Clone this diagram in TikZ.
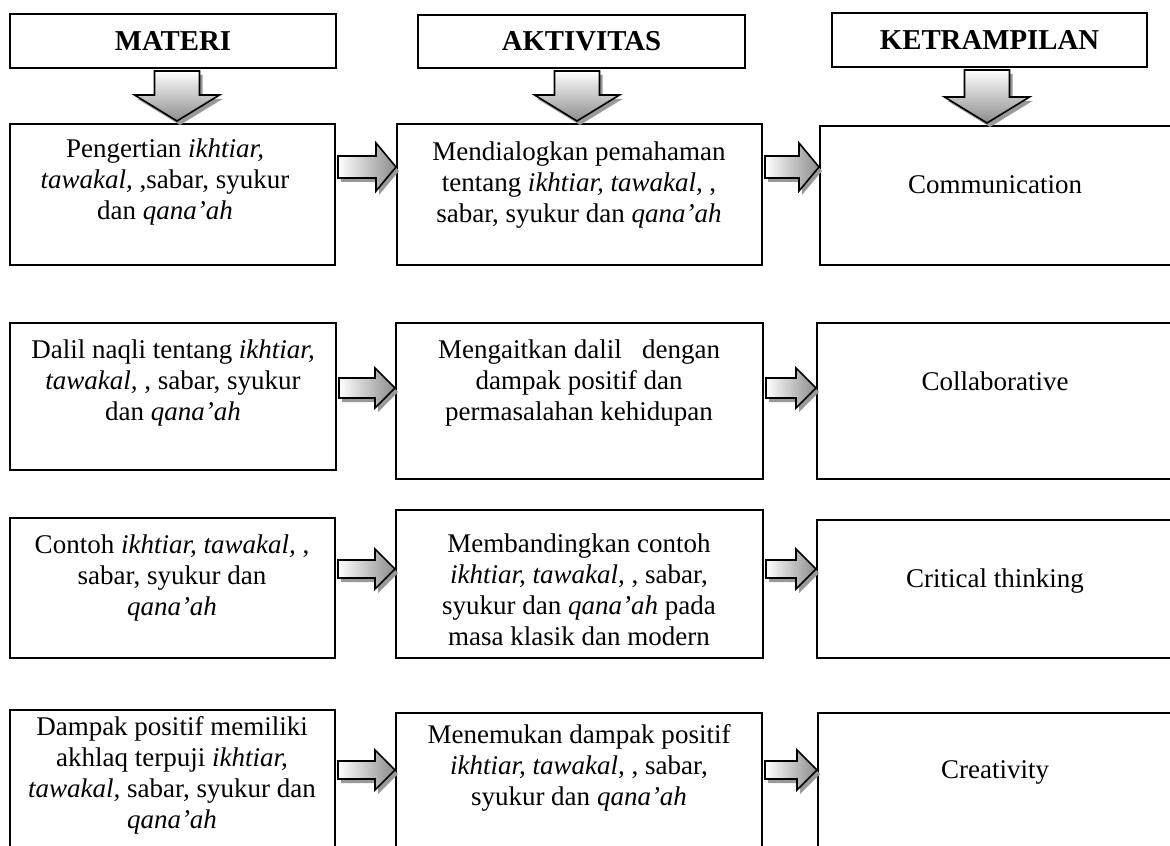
\documentclass[tikz,border=0pt]{standalone}
\usepackage{fontspec}
\setmainfont{Liberation Serif}
\usetikzlibrary{calc}
\newcommand\boxnode[6]{% name, left, top, right, bottom, style
  \node[#6, minimum width=#4*0.5pt-#2*0.5pt, minimum height=#5*0.5pt-#3*0.5pt] (#1) at ({(#2+#4)/2},{(#3+#5)/2}) {};}
\newcommand\rpath[5]{% name, head half, shaft half, dx, dy
  ($(#1s)+(#4,#5-#3)$) -- ($(#1t)+(#4-20,#5-#3)$) -- ($(#1t)+(#4-20,#5-#2)$) -- ($(#1t)+(#4,#5)$) -- ($(#1t)+(#4-20,#5+#2)$) -- ($(#1t)+(#4-20,#5+#3)$) -- ($(#1s)+(#4,#5+#3)$) -- cycle}
\newcommand\dpath[5]{% name, head half, shaft half, dx, dy
  ($(#1s)+(#4-#3,#5)$) -- ($(#1s)+(#4+#3,#5)$) -- ($(#1t)+(#4+#3,#5-26)$) -- ($(#1t)+(#4+#2,#5-26)$) -- ($(#1t)+(#4,#5)$) -- ($(#1t)+(#4-#2,#5-26)$) -- ($(#1t)+(#4-#3,#5-26)$) -- cycle}
\newcommand\rarrow[6]{% name, from, to, y, head half, shaft half
  \coordinate (#1s) at ($(#2.east |- 0,#4)+(2,0)$);
  \coordinate (#1t) at (#3.west |- 0,#4);
  \fill[shadowfill] \rpath{#1}{#5}{#6}{3}{4};
  \path[rshade] \rpath{#1}{#5}{#6}{0}{0};}
\newcommand\darrow[4]{% name, from, to, x
  \coordinate (#1s) at ($(#2.south -| #4,0)+(0,2)$);
  \coordinate (#1t) at ($(#3.north -| #4,0)+(0,-2)$);
  \fill[shadowfill] \dpath{#1}{42.5}{22.5}{3}{4};
  \path[dshade] \dpath{#1}{42.5}{22.5}{0}{0};}
\begin{document}
\begin{tikzpicture}[x=0.5pt,y=-0.5pt,
  box/.style={draw=black, line width=1pt, inner sep=0pt},
  txt/.style={align=center, inner sep=0pt, anchor=base, font=\fontsize{13.5}{15.5}\selectfont},
  hdrtxt/.style={inner sep=0pt, font=\fontsize{14.4}{17}\selectfont\bfseries},
  arrowline/.style={draw=black, line width=0.8pt, line join=miter},
  rshade/.style={arrowline, left color=white, right color=black!45},
  dshade/.style={arrowline, top color=white, bottom color=black!45},
  shadowfill/.style={fill=black!40}
]
\useasboundingbox (0,0) rectangle (1170,845);
\clip (0,0) rectangle (1170,845);
\fill[white] (0,0) rectangle (1170,845);

% headers
\boxnode{h1}{10}{14}{336}{68}{box}
\boxnode{h2}{418}{15}{745}{68}{box}
\boxnode{h3}{832}{13}{1147}{67}{box}
\node[hdrtxt] (h1t) at (h1) {MATERI};
\node[hdrtxt] (h2t) at (h2) {AKTIVITAS};
\node[hdrtxt] (h3t) at (h3) {KETRAMPILAN};

% boxes
\boxnode{b11}{10}{124}{335}{265}{box}
\boxnode{b12}{397}{124}{762}{265}{box}
\boxnode{b13}{820}{126}{1180}{265}{box}
\boxnode{b21}{10}{323}{336}{470}{box}
\boxnode{b22}{396}{323}{763}{479}{box}
\boxnode{b23}{817}{323}{1180}{479}{box}
\boxnode{b31}{10}{518}{335}{658}{box}
\boxnode{b32}{396}{510}{763}{658}{box}
\boxnode{b33}{817}{520}{1180}{658}{box}
\boxnode{b41}{10}{710}{335}{860}{box}
\boxnode{b42}{396}{713}{762}{860}{box}
\boxnode{b43}{818}{713}{1180}{860}{box}

% texts (y = baseline of the last line)
\node[txt] (t11) at (165,220) {Pengertian \textit{ikhtiar,}\\\textit{tawakal,} ,sabar, syukur\\dan \textit{qana’ah}};
\node[txt] (t12) at (579,222) {Mendialogkan pemahaman\\tentang \textit{ikhtiar, tawakal,} ,\\sabar, syukur dan \textit{qana’ah}};
\node[txt] (t13) at (995,193) {Communication};
\node[txt] (t21) at (173,420) {Dalil naqli tentang \textit{ikhtiar,}\\\textit{tawakal,} , sabar, syukur\\dan \textit{qana’ah}};
\node[txt] (t22) at (579,420) {Mengaitkan dalil\ \ \ dengan\\dampak positif dan\\permasalahan kehidupan};
\node[txt] (t23) at (995,390) {Collaborative};
\node[txt] (t31) at (172,615) {Contoh \textit{ikhtiar, tawakal,} ,\\sabar, syukur dan\\\textit{qana’ah}};
\node[txt] (t32) at (579,645) {Membandingkan contoh\\\textit{ikhtiar, tawakal,} , sabar,\\syukur dan \textit{qana’ah} pada\\masa klasik dan modern};
\node[txt] (t33) at (995,587) {Critical thinking};
\node[txt] (t41) at (172,828) {Dampak positif memiliki\\akhlaq terpuji \textit{ikhtiar,}\\\textit{tawakal,} sabar, syukur dan\\\textit{qana’ah}};
\node[txt] (t42) at (579,805) {Menemukan dampak positif\\\textit{ikhtiar, tawakal,} , sabar,\\syukur dan \textit{qana’ah}};
\node[txt] (t43) at (995,778) {Creativity};

% down arrows
\darrow{d1}{h1}{b11}{177}
\darrow{d2}{h2}{b12}{577}
\darrow{d3}{h3}{b13}{987}

% right arrows
\rarrow{a11}{b11}{b12}{167}{24}{11}
\rarrow{a12}{b12}{b13}{167}{24}{11}
\rarrow{a21}{b21}{b22}{388}{20}{10}
\rarrow{a22}{b22}{b23}{388}{20}{10}
\rarrow{a31}{b31}{b32}{569}{20}{9}
\rarrow{a32}{b32}{b33}{569}{20}{9}
\rarrow{a41}{b41}{b42}{770}{20}{9}
\rarrow{a42}{b42}{b43}{770}{20}{9}
\end{tikzpicture}
\end{document}
